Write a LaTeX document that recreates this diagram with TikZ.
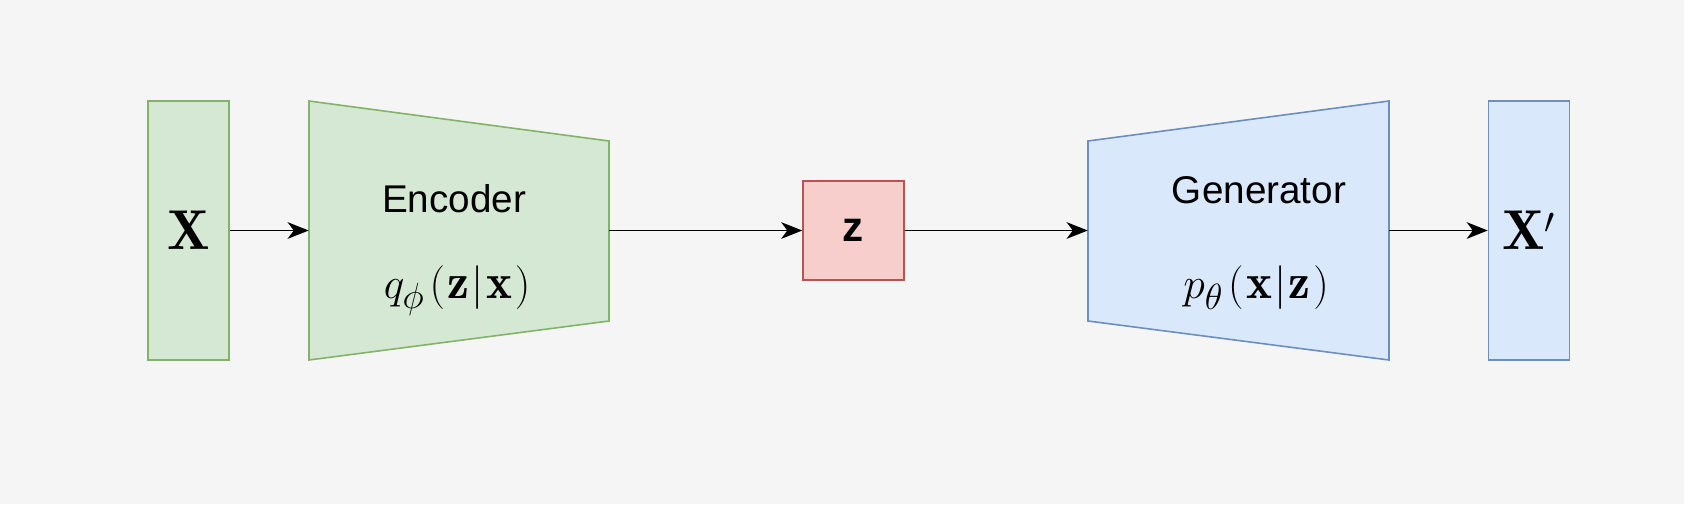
\documentclass[tikz,border=0pt]{standalone}
\usepackage{fontspec}
\setsansfont{Liberation Sans}
\usepackage{amsmath}
\usepackage{tikz}
\usepackage{xcolor}
\usetikzlibrary{arrows.meta}
\definecolor{bgcol}{HTML}{F5F5F5}
\definecolor{greenfill}{HTML}{D5E8D4}
\definecolor{greenline}{HTML}{82B366}
\definecolor{redfill}{HTML}{F8CECC}
\definecolor{redline}{HTML}{B85450}
\definecolor{bluefill}{HTML}{DAE8FC}
\definecolor{blueline}{HTML}{6C8EBF}
\tikzstyle{data-block} = [
    rectangle, minimum width=1.62cm, minimum height=5.18cm, inner sep=0pt,
    text centered, line width=0.9pt
]
\tikzstyle{latent-block} = [
    rectangle, minimum width=2.02cm, minimum height=1.98cm, inner sep=0pt,
    text centered, draw=redline, fill=redfill, line width=0.9pt
]
\tikzstyle{net-area} = [
    rectangle, minimum width=6cm, minimum height=5.18cm, inner sep=0pt
]
\tikzstyle{net-text} = [font=\sffamily\fontsize{22}{26}\selectfont]
\tikzstyle{net-math} = [font=\fontsize{28}{34}\selectfont]
\tikzstyle{arrow} = [line width=0.9pt,-{Stealth[length=12pt,width=9.5pt,inset=3.5pt]}]

\begin{document}
\begin{tikzpicture}[x=0.02cm, y=-0.02cm]
            \fill [bgcol] (0,0) rectangle (1684,504);
            \useasboundingbox (0,0) rectangle (1684,504);

            \node (x) [data-block, draw=greenline, fill=greenfill] at (188.5,230.5)
                            {\fontsize{32}{36}\selectfont$\mathbf{X}$};

            \draw [line width=0.9pt, draw=greenline, fill=greenfill]
                (309,101) -- (609,141) -- (609,321) -- (309,360) -- cycle;
            \node (enc) [net-area] at (459,230.5) {};
            \node (enclabel) [net-text] at (454,199) {Encoder};
            \node (encmath) [net-math] at (457,291)
                {$q_\phi\mkern2mu(\mkern1mu\mathbf{z}\mkern1mu|\mkern1mu\mathbf{x}\mkern1mu)$};

            \node (z) [latent-block] at (853.5,230.5)
                            {\sffamily\bfseries\fontsize{24}{28}\selectfont z};

            \draw [line width=0.9pt, draw=blueline, fill=bluefill]
                (1088,141) -- (1389,101) -- (1389,360) -- (1088,321) -- cycle;
            \node (gen) [net-area, minimum width=6.02cm] at (1238.5,230.5) {};
            \node (genlabel) [net-text] at (1259,190) {Generator};
            \node (genmath) [net-math] at (1256,288)
                {$p_\theta\mkern2mu(\mkern1mu\mathbf{x}\mkern1mu|\mkern1mu\mathbf{z}\mkern1mu)$};

            \node (xr) [data-block, draw=blueline, fill=bluefill] at (1529,230.5)
                            {\fontsize{32}{36}\selectfont$\mathbf{X}^{\prime}$};

            \draw [arrow] (x) -- (enc);
            \draw [arrow] (enc) -- (z);
            \draw [arrow] (z) -- (gen);
            \draw [arrow] (gen) -- (xr);
        \end{tikzpicture}
\end{document}
